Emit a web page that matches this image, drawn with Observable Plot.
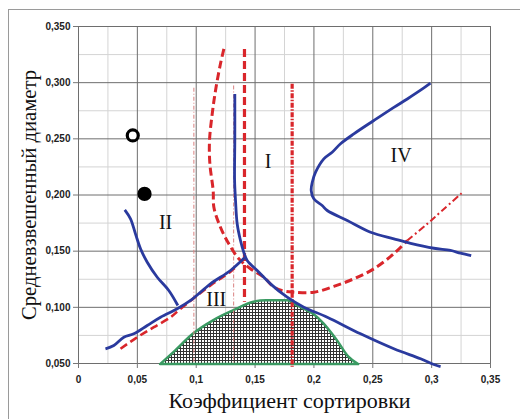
<!DOCTYPE html>
<html>
<head>
<meta charset="utf-8">
<script src="https://cdn.jsdelivr.net/npm/d3@7"></script>
<script src="https://cdn.jsdelivr.net/npm/@observablehq/plot@0.6"></script>
<style>
  html, body { margin: 0; padding: 0; background: #fff; width: 520px; height: 419px; overflow: hidden; }
  #frame { position: absolute; left: 8px; top: 9px; width: 520px; height: 420px; border-left: 1px solid #9a9a9a; border-top: 1px solid #9a9a9a; }
  #chart { position: absolute; left: 0; top: 0; }
  #chart svg { display: block; }
</style>
</head>
<body>
<div id="frame"></div>
<div id="chart"></div>
<script>
// ---- tick values and labels ----
const xTicks = [0, 0.05, 0.1, 0.15, 0.2, 0.25, 0.3, 0.35];
const xTickLabels = ["0", "0,05", "0,1", "0,15", "0,2", "0,25", "0,3", "0,35"];
const xMinor = [0.025, 0.075, 0.125, 0.175, 0.225, 0.275, 0.325];
const yTicks = [0.05, 0.1, 0.15, 0.2, 0.25, 0.3, 0.35];
const yTickLabels = ["0,050", "0,100", "0,150", "0,200", "0,250", "0,300", "0,350"];
const yMinor = [0.075, 0.125, 0.175, 0.225, 0.275, 0.325];

const xTitle = "Коэффициент сортировки";
const yTitle = "Средневзвешенный диаметр";

// ---- blue curves ----
const blueII = [[0.0393,0.1868],[0.0442,0.1788],[0.0484,0.1654],[0.0527,0.1521],[0.0584,0.1402],[0.0669,0.1268],[0.0767,0.115],[0.0844,0.1016]];
const blueDiag = [[0.0229,0.0631],[0.030,0.066],[0.0385,0.0734],[0.047,0.0764],[0.0584,0.0838],[0.0697,0.0912],[0.0839,0.0987],[0.0952,0.1061],[0.1121,0.1209],[0.1291,0.1328],[0.141,0.1441]];
const blueVert = [[0.1328,0.290],[0.1328,0.25],[0.1326,0.213],[0.1334,0.1951],[0.1348,0.1744],[0.1376,0.1595],[0.1404,0.1491],[0.1433,0.1417],[0.1518,0.1328],[0.1631,0.1209],[0.1773,0.109],[0.1914,0.1001],[0.2113,0.0912],[0.2396,0.0764],[0.2679,0.0631],[0.2906,0.0542],[0.3019,0.0491],[0.3076,0.0473]];
const blueIV = [[0.299,0.2995],[0.2934,0.2953],[0.2793,0.2855],[0.2679,0.278],[0.2509,0.2663],[0.2339,0.2544],[0.2226,0.2456],[0.2155,0.2381],[0.2084,0.2322],[0.2014,0.2203],[0.1986,0.2114],[0.1977,0.204],[0.1999,0.1966],[0.207,0.1907],[0.2113,0.1862],[0.2283,0.1773],[0.2481,0.1669],[0.2679,0.161],[0.2821,0.157],[0.3019,0.1526],[0.316,0.1506],[0.3246,0.1482],[0.3336,0.1461]];

// ---- red curves ----
const redArc = [[0.1235,0.330],[0.1206,0.3168],[0.1164,0.293],[0.1136,0.2723],[0.1113,0.2485],[0.1116,0.2278],[0.1144,0.204],[0.115,0.1891],[0.1206,0.1713],[0.1277,0.1565],[0.1362,0.1432],[0.1461,0.1343],[0.1574,0.1268],[0.166,0.118],[0.1744,0.1145],[0.1829,0.1135],[0.2,0.1135],[0.2169,0.1186],[0.2339,0.1254],[0.2509,0.1343],[0.2679,0.1477],[0.2793,0.1595]];
const redTail = [[0.2793,0.1595],[0.2962,0.1743],[0.309,0.1862],[0.3274,0.2034]];
const redDiag = [[0.0357,0.0631],[0.0499,0.0734],[0.064,0.0823],[0.0782,0.0912],[0.0867,0.0987],[0.1121,0.1195],[0.1291,0.1318],[0.1348,0.1373]];
const redVertDash = [[0.141,0.330],[0.141,0.105]];
const redVertDashDot = [[0.1815,0.299],[0.1815,0.047]];
const pinkVertA = [[0.098,0.2955],[0.098,0.05]];
const pinkVertB = [[0.1318,0.2975],[0.1318,0.05]];

// ---- hatched region ----
const polyX =   [0.0697,0.081,0.098,0.115,0.132,0.149,0.16,0.178,0.183,0.1914,0.2,0.2085,0.2198,0.2297,0.238];
const polyTop = [0.049,0.0597,0.0764,0.0882,0.097,0.1046,0.1058,0.1058,0.103,0.0987,0.0936,0.0853,0.0705,0.0556,0.049];
const polyBase = 0.049;

// ---- markers and region labels ----
const markerX = [0.0461, 0.0561];
const markerY = [0.253, 0.201];
const markerFill = ["white", "black"];
const regionText = ["I", "II", "III", "IV"];
const regionX = [0.161, 0.074, 0.117, 0.274];
const regionY = [0.230, 0.175, 0.107, 0.235];

const blue = "#2a3a9e";
const red = "#d9262b";
const green = "#3a9a62";
const serif = "'Liberation Serif', 'Times New Roman', serif";
const sans = "'Liberation Sans', Arial, sans-serif";

const pts = a => a.map(([x, y]) => ({x, y}));
const lineOpts = (stroke, w, dash, curve = "catmull-rom") => ({x: "x", y: "y", stroke, strokeWidth: w, strokeDasharray: dash, curve, strokeLinecap: "butt"});
const xLab = d => xTickLabels[xTicks.findIndex(t => Math.abs(t - d) < 1e-9)];
const yLab = d => yTickLabels[yTicks.findIndex(t => Math.abs(t - d) < 1e-9)];

const chart = Plot.plot({
  width: 520,
  height: 419,
  marginLeft: 78,
  marginRight: 30,
  marginTop: 26,
  marginBottom: 56,
  style: {background: "transparent", fontFamily: sans},
  x: {domain: [0, 0.35]},
  y: {domain: [0.05, 0.35]},
  marks: [
    Plot.gridX(xMinor, {stroke: "#d4d4d4", strokeOpacity: 1}),
    Plot.gridY(yMinor, {stroke: "#d4d4d4", strokeOpacity: 1}),
    Plot.gridX(xTicks, {stroke: "#6e6e6e", strokeOpacity: 1}),
    Plot.gridY(yTicks, {stroke: "#6e6e6e", strokeOpacity: 1}),
    Plot.axisX(xTicks, {tickFormat: xLab, tickSize: 5, tickPadding: 7, stroke: "#777", fill: "#222", fontSize: 10, fontWeight: "bold", label: null}),
    Plot.axisY(yTicks, {tickFormat: yLab, tickSize: 5, tickPadding: 3, stroke: "#777", fill: "#222", fontSize: 10, fontWeight: "bold", label: null}),
    Plot.area(polyX.map((x, i) => ({x, y: polyTop[i]})), {x1: "x", y1: () => polyBase, y2: "y", fill: "url(#mesh)", stroke: green, strokeWidth: 2.5, curve: "monotone-x"}),
    Plot.line(pts(pinkVertA), lineOpts("#d98080", 1, "4,2,1,2", "linear")),
    Plot.line(pts(pinkVertB), lineOpts("#d98080", 1, "4,2,1,2", "linear")),
    Plot.line(pts(redVertDash), lineOpts(red, 3.2, "8,4", "linear")),
    Plot.line(pts(redVertDashDot), lineOpts(red, 3.2, "5,1.5,1.5,1.5", "linear")),
    Plot.line(pts(redArc), lineOpts(red, 3, "8,4")),
    Plot.line(pts(redTail), lineOpts(red, 2, "7,3,2,3")),
    Plot.line(pts(redDiag), lineOpts(red, 2.6, "8,4")),
    Plot.line(pts(blueII), lineOpts(blue, 2.8)),
    Plot.line(pts(blueDiag), lineOpts(blue, 2.8)),
    Plot.line(pts(blueVert), lineOpts(blue, 2.8)),
    Plot.line(pts(blueIV), lineOpts(blue, 2.8)),
    Plot.dot(markerX.map((x, i) => ({x, y: markerY[i], f: markerFill[i]})), {x: "x", y: "y", r: 5.5, fill: "f", stroke: "black", strokeWidth: 3.2}),
    Plot.text(regionText.map((t, i) => ({t, x: regionX[i], y: regionY[i]})), {x: "x", y: "y", text: "t", fontSize: 20, fontFamily: serif, fill: "#111"}),
    Plot.text([xTitle], {text: d => d, frameAnchor: "bottom", textAnchor: "middle", lineAnchor: "middle", dy: 37, dx: 5, fontSize: 22, fontFamily: serif, fill: "#111"}),
    Plot.text([yTitle], {text: d => d, frameAnchor: "left", textAnchor: "middle", lineAnchor: "middle", dx: -50, rotate: -90, fontSize: 22, fontFamily: serif, fill: "#111"})
  ]
});

const svg = d3.select(chart);
const pat = svg.insert("defs", ":first-child").append("pattern")
  .attr("id", "mesh").attr("width", 3).attr("height", 3).attr("patternUnits", "userSpaceOnUse");
pat.append("rect").attr("width", 3).attr("height", 3).attr("fill", "#333");
pat.append("rect").attr("x", 1).attr("y", 1).attr("width", 2).attr("height", 2).attr("fill", "#fff");

// fit the vertical title to the reference length
svg.selectAll("text").filter(function () { return this.textContent === yTitle; })
  .attr("textLength", 250).attr("lengthAdjust", "spacingAndGlyphs");

document.getElementById("chart").appendChild(chart);
</script>
</body>
</html>
